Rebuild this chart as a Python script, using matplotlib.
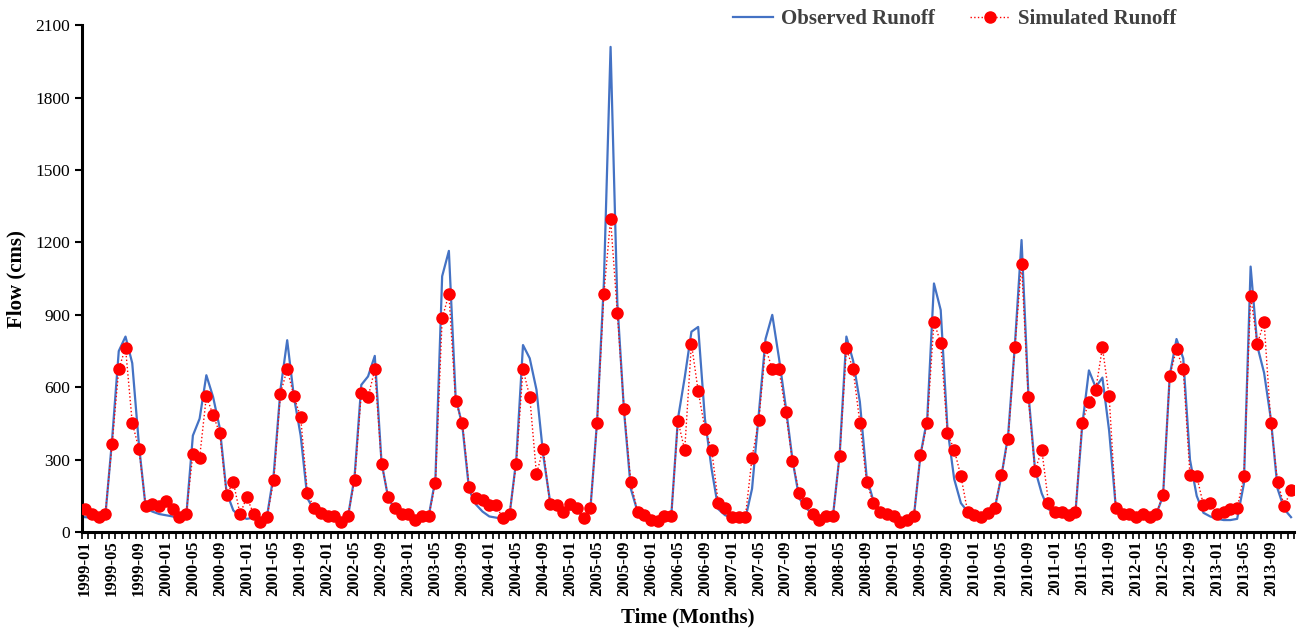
import numpy as np
import pandas as pd
from matplotlib import pyplot as plt

# monthly runoff 1999-01 .. 2013-12 (cms)
months = pd.date_range('1999-01-01', '2013-12-01', freq='MS').strftime('%Y-%m').tolist()

observed = [
    62, 60, 55, 65, 380, 750, 810, 700, 360, 100, 85, 75,          # 1999
    70, 65, 55, 60, 400, 470, 650, 560, 430, 165, 90, 65,          # 2000
    55, 60, 50, 65, 240, 590, 795, 560, 400, 140, 90, 75,          # 2001
    65, 60, 45, 60, 230, 610, 645, 730, 290, 140, 95, 75,          # 2002
    70, 55, 60, 65, 220, 1060, 1165, 560, 440, 175, 115, 85,       # 2003
    65, 60, 55, 70, 300, 775, 720, 590, 320, 130, 105, 85,         # 2004
    95, 90, 60, 95, 460, 1030, 2010, 950, 500, 180, 85, 65,        # 2005
    55, 50, 60, 65, 470, 640, 830, 850, 470, 260, 95, 70,          # 2006
    60, 55, 55, 180, 490, 800, 900, 720, 520, 300, 140, 100,       # 2007
    75, 55, 60, 65, 320, 810, 710, 540, 230, 130, 90, 70,          # 2008
    60, 45, 40, 60, 320, 470, 1030, 920, 430, 220, 120, 85,        # 2009
    65, 55, 75, 95, 230, 400, 770, 1210, 580, 260, 160, 95,        # 2010
    80, 80, 65, 80, 440, 670, 600, 640, 420, 100, 75, 70,          # 2011
    60, 70, 60, 75, 150, 650, 800, 720, 300, 150, 80, 65,          # 2012
    55, 50, 50, 55, 200, 1100, 770, 660, 470, 180, 95, 62,         # 2013
]

simulated = [
    94, 77, 63, 77, 363, 675, 764, 453, 344, 108, 116, 108,
    130, 95, 61, 75, 323, 308, 563, 485, 409, 153, 208, 75,
    144, 77, 43, 63, 215, 574, 675, 563, 475, 163, 98, 80,
    66, 66, 43, 66, 215, 577, 558, 674, 284, 146, 98, 77,
    75, 52, 66, 66, 204, 885, 986, 543, 453, 188, 142, 133,
    112, 112, 57, 77, 284, 675, 561, 240, 346, 116, 112, 84,
    116, 98, 57, 98, 453, 986, 1297, 909, 508, 208, 84, 70,
    52, 47, 66, 66, 461, 340, 781, 585, 428, 342, 119, 98,
    61, 61, 61, 309, 464, 765, 674, 674, 496, 294, 163, 121,
    77, 52, 66, 66, 316, 761, 674, 453, 208, 121, 84, 77,
    66, 43, 50, 66, 319, 453, 871, 784, 409, 342, 232, 84,
    70, 61, 80, 98, 236, 385, 765, 1110, 561, 254, 342, 121,
    84, 84, 70, 84, 453, 540, 588, 765, 563, 98, 75, 75,
    63, 75, 63, 77, 153, 648, 758, 674, 236, 232, 112, 121,
    77, 84, 94, 98, 232, 979, 779, 871, 453, 208, 108, 174,
]

plt.rcParams['font.family'] = ['Liberation Serif', 'DejaVu Serif']

fig = plt.figure(figsize=(12.97, 6.29), dpi=100)
ax = fig.add_axes([0.063, 0.154, 0.935, 0.806])

x = np.arange(len(months))
ax.plot(x, observed, color='#4472C4', lw=1.6, label='Observed Runoff', zorder=2)
ax.plot(x, simulated, color='#FF0000', lw=1.0, ls=':', marker='o', ms=8,
        label='Simulated Runoff', zorder=3)

ax.set_xlim(-0.5, len(months) - 0.5)
ax.set_ylim(0, 2100)
ax.set_yticks(range(0, 2101, 300))

ax.set_xticks(x[::4])
ax.set_xticklabels(months[::4], rotation=90, fontsize=12, fontweight='bold')
ax.set_xticks(np.arange(-0.5, len(months), 1), minor=True)
ax.tick_params(axis='x', which='major', length=0, pad=6)
ax.tick_params(axis='x', which='minor', length=5, width=1.2, direction='out')
ax.tick_params(axis='y', length=5, width=1.5, labelsize=12.5)

for side in ['top', 'right']:
    ax.spines[side].set_visible(False)
for side in ['left', 'bottom']:
    ax.spines[side].set_linewidth(2.2)

ax.set_ylabel('Flow (cms)', fontsize=15, fontweight='bold', labelpad=6)
ax.set_xlabel('Time (Months)', fontsize=15, fontweight='bold', labelpad=8)

leg = fig.legend(loc='center left', bbox_to_anchor=(733 / 1297, 1 - 19 / 629), ncol=2,
                 frameon=False, fontsize=15, handlelength=1.9, handletextpad=0.4,
                 columnspacing=1.7, borderpad=0, borderaxespad=0)
for t in leg.get_texts():
    t.set_color('#404040')
    t.set_fontweight('bold')

fig.savefig('out.png', dpi=100)
